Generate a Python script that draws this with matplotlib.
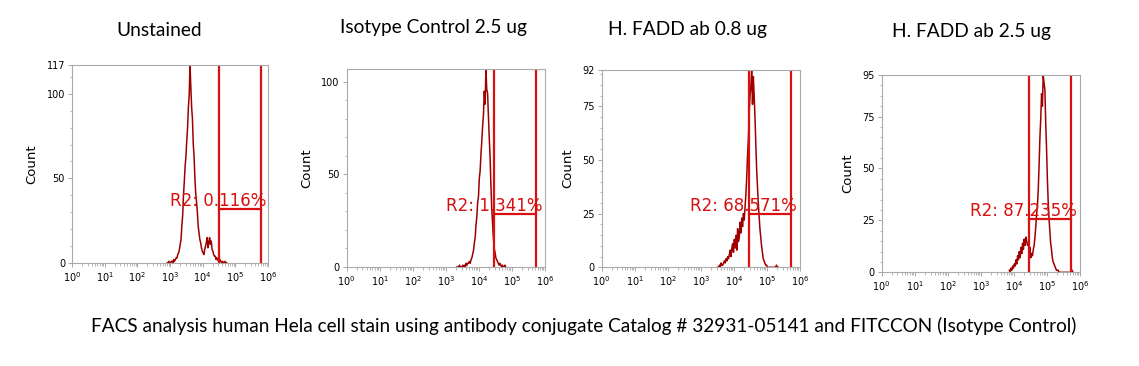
import numpy as np
import matplotlib
matplotlib.use("Agg")
import matplotlib.pyplot as plt
from matplotlib.ticker import LogLocator, LogFormatterMathtext, MultipleLocator

# panel titles and gate readouts
titles = ["Unstained", "Isotype Control 2.5 ug", "H. FADD ab 0.8 ug", "H. FADD ab 2.5 ug"]
gate_labels = ["R2: 0.116%", "R2: 1.341%", "R2: 68.571%", "R2: 87.235%"]
caption = ("FACS analysis human Hela cell stain using antibody conjugate "
           "Catalog # 32931-05141 and FITCCON (Isotype Control)")

# y axis tops and tick values
y_max = [117, 107, 92, 95]
y_ticks = [[0, 50, 100, 117], [0, 50, 100], [0, 25, 50, 75, 92], [0, 25, 50, 75, 95]]

# gate (log10 of fluorescence) and height of the gate bar
gate_lo = [4.49, 4.45, 4.46, 4.46]
gate_hi = [5.78, 5.73, 5.72, 5.72]
gate_y = [32, 28.6, 25, 25.8]

# histogram counts, channels 0.025 decade apart, first channel at log10 value chan_start
chan_start = [2.9125, 3.3375, 3.5125, 3.8625]
counts_unstained = [0, 0, 1, 0, 0, 1, 1, 0, 2, 1, 2, 3, 3, 5, 6, 8, 11, 14, 22, 28,
                    40, 48, 57, 63, 72, 80, 92, 99, 117, 104, 92, 85, 70, 63, 50, 41, 36, 30, 22, 18,
                    14, 12, 9, 7, 6, 5, 8, 10, 12, 15, 9, 12, 15, 11, 13, 8, 7, 5, 4, 4,
                    2, 3, 2, 1, 3, 1, 1, 0, 1, 0, 0, 1, 0, 0]
counts_isotype = [0, 0, 0, 1, 0, 0, 0, 1, 0, 1, 0, 2, 1, 2, 2, 3, 2, 4, 5, 7,
                  9, 13, 16, 23, 27, 35, 38, 48, 52, 61, 68, 76, 82, 95, 88, 107, 96, 94, 82, 70,
                  60, 45, 32, 24, 16, 10, 8, 5, 4, 3, 2, 1, 2, 1, 0, 1, 0, 0, 1, 0]
counts_fadd08 = [0, 0, 1, 0, 2, 1, 1, 2, 3, 2, 4, 3, 5, 4, 6, 8, 5, 9, 11, 7,
                 13, 9, 15, 8, 18, 12, 14, 21, 16, 23, 19, 25, 22, 28, 34, 42, 52, 60, 72, 80,
                 84, 92, 76, 89, 80, 70, 58, 46, 38, 30, 24, 18, 14, 10, 7, 4, 3, 2, 1, 1,
                 0, 0, 0, 0, 0, 0, 0, 0, 0, 0, 0, 1, 0, 0]
counts_fadd25 = [1, 0, 2, 1, 3, 2, 4, 3, 6, 4, 8, 6, 10, 7, 12, 9, 14, 11, 16, 13,
                 17, 15, 13, 14, 10, 12, 7, 9, 8, 11, 13, 17, 22, 28, 32, 40, 52, 65, 74, 86,
                 80, 95, 91, 88, 72, 60, 45, 34, 26, 20, 14, 11, 7, 5, 4, 3, 2, 1, 1, 1,
                 0, 0, 0, 0, 0, 0, 0, 0, 0, 0, 0, 0, 0, 0, 0, 0, 1, 0]
all_counts = [counts_unstained, counts_isotype, counts_fadd08, counts_fadd25]

# axes boxes in pixels: left, right, top, bottom
W, H = 1139, 366
boxes = [(72, 268, 65, 263), (346.7, 545, 69, 267), (601.7, 800, 70, 267.3), (881.7, 1080, 75, 272.3)]
title_pos = [(159, 31), (433, 27), (688, 30), (972, 31)]

fig = plt.figure(figsize=(W / 100, H / 100), dpi=100)

hist_color = "#9e0000"
gate_color = "#d81010"

for i in range(4):
    l, r, t, b = boxes[i]
    ax = fig.add_axes([l / W, 1 - b / H, (r - l) / W, (b - t) / H])
    counts = np.array(all_counts[i])
    chans = 10 ** (chan_start[i] + 0.025 * np.arange(len(counts)))
    ax.plot(chans, counts, color=hist_color, lw=1.1)

    ax.set_xscale("log")
    ax.set_xlim(1, 1e6)
    ax.set_ylim(0, y_max[i])

    lo, hi = 10 ** gate_lo[i], 10 ** gate_hi[i]
    ax.axvline(lo, color=gate_color, lw=1.6)
    ax.axvline(hi, color=gate_color, lw=1.6)
    ax.plot([lo, hi], [gate_y[i], gate_y[i]], color=gate_color, lw=1.6)
    ax.annotate(gate_labels[i], xy=(hi, gate_y[i]), xytext=(6, 3),
                textcoords="offset pixels", ha="right", va="baseline",
                color=gate_color, fontsize=12)

    ax.set_yticks(y_ticks[i])
    ax.yaxis.set_minor_locator(MultipleLocator(5 if y_max[i] < 100 else 10))
    ax.xaxis.set_major_locator(LogLocator(base=10, numticks=10))
    ax.xaxis.set_minor_locator(LogLocator(base=10, subs=np.arange(2, 10), numticks=100))
    ax.xaxis.set_major_formatter(LogFormatterMathtext())
    ax.tick_params(which="major", length=3, width=0.6, color="#999999", labelsize=7, pad=2)
    ax.tick_params(which="minor", length=1.8, width=0.5, color="#999999")
    for s in ax.spines.values():
        s.set_color("#aaaaaa")
        s.set_linewidth(0.8)
    ax.set_ylabel("Count", fontsize=9.5, labelpad=6)

    tx, ty = title_pos[i]
    fig.text(tx / W, 1 - ty / H, titles[i], ha="center", va="center",
             fontsize=13.8, family="Lato")

fig.text(584 / W, 1 - 326 / H, caption, ha="center", va="center", fontsize=13.7, family="Lato")

fig.savefig("out.png", dpi=100, facecolor="white")
